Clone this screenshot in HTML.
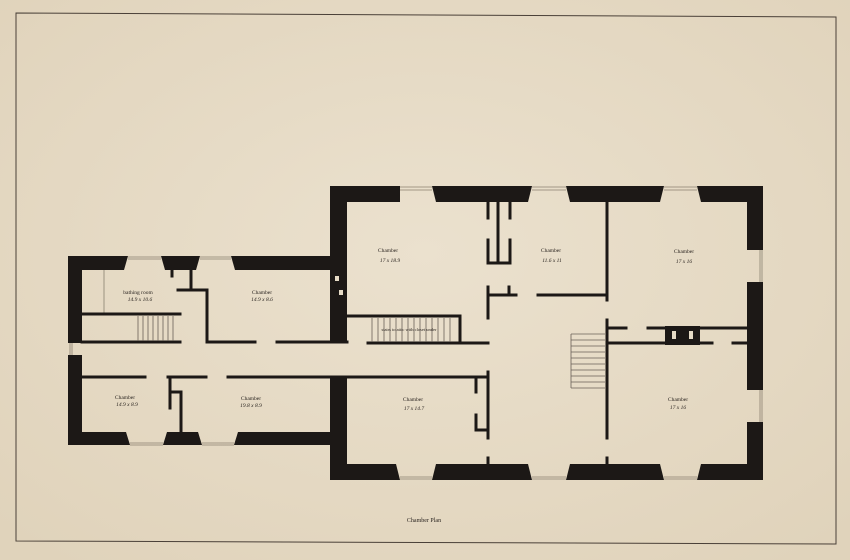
<!DOCTYPE html>
<html><head><meta charset="utf-8"><style>
html,body{margin:0;padding:0}
body{width:850px;height:560px;overflow:hidden;background:#e6dbc6}
svg{display:block}
text{font-family:"Liberation Serif",serif;fill:#2a2420}
</style></head><body>
<svg width="850" height="560" viewBox="0 0 850 560" xmlns="http://www.w3.org/2000/svg">
<defs>
<radialGradient id="g" cx="50%" cy="45%" r="70%">
<stop offset="0" stop-color="#ebe1ce"/><stop offset="1" stop-color="#e0d3bb"/>
</radialGradient>
</defs>
<rect width="850" height="560" fill="url(#g)"/>
<path d="M16 13 L836 17 L836 544 L16 541 Z" fill="none" stroke="#4a4038" stroke-width="1"/>

<g fill="#1c1816">
<!-- main block top wall -->
<rect x="330" y="186" width="70" height="16"/>
<polygon points="432,186 532,186 528,202 436,202"/>
<polygon points="566,186 664,186 660,202 570,202"/>
<polygon points="697,186 763,186 763,250 747,250 747,202 701,202"/>
<!-- right wall -->
<polygon points="747,282 763,282 763,390 747,390 747,284"/>
<polygon points="747,422 763,422 763,480 697,480 701,464 747,464"/>
<!-- bottom wall -->
<polygon points="330,378 347,378 347,464 396,464 400,480 330,480"/>
<polygon points="436,464 528,464 532,480 432,480"/>
<polygon points="570,464 660,464 664,480 566,480"/>
<!-- main left wall upper -->
<rect x="330" y="186" width="17" height="157"/>
<!-- left wing -->
<polygon points="68,256 128,256 124,270 82,270 82,343 68,343"/>
<polygon points="161,256 200,256 196,270 165,270"/>
<polygon points="231,256 330,256 330,270 235,270"/>
<polygon points="68,355 82,355 82,432 126,432 130,445 68,445"/>
<polygon points="167,432 198,432 202,445 163,445"/>
<polygon points="238,432 330,432 330,445 234,445"/>
</g>
<!-- windows -->
<g fill="none" stroke="#8a8070" stroke-width="0.8">
<path d="M400 187 H432 M400 190 H432 M532 187 H566 M532 190 H566 M664 187 H697 M664 190 H697"/>
<path d="M400 477 H432 M400 479 H432 M532 477 H566 M532 479 H566 M664 477 H697 M664 479 H697"/>
<path d="M760 250 V282 M762 250 V282 M760 390 V422 M762 390 V422"/>
<path d="M128 257 H161 M128 259 H161 M200 257 H231 M200 259 H231"/>
<path d="M130 443 H163 M130 445 H163 M202 443 H234 M202 445 H234"/>
<path d="M70 343 V355 M72 343 V355"/>
<path d="M104 270 V313"/>
</g>
<!-- partitions -->
<g stroke="#1c1816" stroke-width="3" fill="none" stroke-linecap="square">
<path d="M82 314 H180 M82 342 H180"/>
<path d="M191 270 V290 M178 290 H207 V342 H255 M277 342 H347"/>
<path d="M82 377 H145 M168 377 H206 M228 377 H488"/>
<path d="M170 377 V408 M170 392 H181 M181 392 V432"/>
<path d="M347 316 H460 V342 M368 343 H488"/>
<path d="M488 372 V438 M476 378 V392 M476 415 V430 H488"/>
<path d="M488 287 V318 M488 295 H516 M509 287 V295"/>
<path d="M488 202 V218 M488 240 V263 H510 V240 M510 202 V218 M498 202 V262"/>
<path d="M538 295 H607 M607 202 V300"/>
<path d="M607 320 V438 M607 458 V468 M488 458 V468"/>
<path d="M607 328 H626 M648 328 H748 M607 343 H712 M733 343 H748"/>
<path d="M172 270 V276"/>
</g>
<rect x="665" y="326" width="35" height="19" fill="#1c1816"/>
<rect x="672" y="331" width="4" height="8" fill="#e6dbc6"/>
<rect x="689" y="331" width="4" height="8" fill="#e6dbc6"/>
<rect x="335" y="276" width="4" height="5" fill="#e6dbc6"/>
<rect x="339" y="290" width="4" height="5" fill="#e6dbc6"/>
<!-- stairs -->
<g stroke="#6a6058" stroke-width="0.8">
<path d="M138 316 V341 M143 316 V341 M148 316 V341 M153 316 V341 M158 316 V341 M163 316 V341 M168 316 V341 M173 316 V341"/>
<path d="M372 318 V342 M378 318 V342 M384 318 V342 M390 318 V342 M396 318 V342 M402 318 V342 M408 318 V342 M414 318 V342 M420 318 V342 M426 318 V342 M432 318 V342 M438 318 V342 M444 318 V342 M450 318 V342"/>
<path d="M571 334 V388 M571 334 H605 M571 340 H605 M571 346 H605 M571 352 H605 M571 358 H605 M571 364 H605 M571 370 H605 M571 376 H605 M571 382 H605 M571 388 H605"/>
</g>
<!-- labels -->
<g font-size="5.5" text-anchor="middle">
<text x="388" y="252">Chamber</text><text x="390" y="262" font-style="italic">17 x 18.9</text>
<text x="551" y="252">Chamber</text><text x="552" y="262" font-style="italic">11.6 x 11</text>
<text x="684" y="253">Chamber</text><text x="684" y="263" font-style="italic">17 x 16</text>
<text x="138" y="294">bathing room</text><text x="140" y="301" font-style="italic">14.9 x 10.6</text>
<text x="262" y="294">Chamber</text><text x="262" y="301" font-style="italic">14.9 x 8.6</text>
<text x="409" y="331" font-size="4.5">stairs to attic with closet under</text>
<text x="125" y="399">Chamber</text><text x="127" y="406" font-style="italic">14.9 x 8.9</text>
<text x="251" y="400">Chamber</text><text x="251" y="407" font-style="italic">19.8 x 8.9</text>
<text x="413" y="401">Chamber</text><text x="414" y="410" font-style="italic">17 x 14.7</text>
<text x="678" y="401">Chamber</text><text x="678" y="409" font-style="italic">17 x 16</text>
<text x="424" y="522" font-size="6">Chamber Plan</text>
</g>
</svg>
</body></html>
